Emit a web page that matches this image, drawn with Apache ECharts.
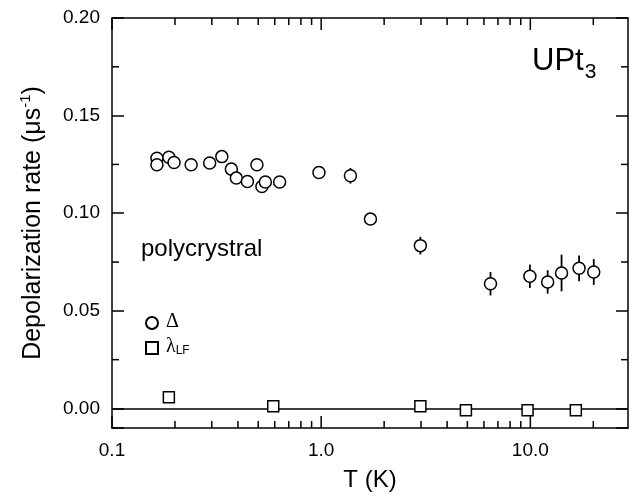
<!DOCTYPE html>
<html>
<head>
<meta charset="utf-8">
<script src="https://cdn.jsdelivr.net/npm/echarts@6/dist/echarts.min.js"></script>
<style>
  html, body { margin: 0; padding: 0; background: #fff; }
  #chart { width: 638px; height: 497px; }
</style>
</head>
<body>
<div id="chart"></div>
<script>
// Δ : temperature (K), rate (μs^-1), error bar half length
const deltaT = [0.164, 0.164, 0.187, 0.198, 0.239, 0.293, 0.335, 0.372, 0.393, 0.444, 0.493, 0.521, 0.541, 0.633, 0.976, 1.38, 1.72, 2.98, 6.45, 9.95, 12.1, 14.1, 17.1, 20.1];
const deltaVal = [0.1282, 0.1248, 0.1287, 0.126, 0.1248, 0.1257, 0.129, 0.1226, 0.118, 0.1163, 0.1248, 0.1137, 0.116, 0.116, 0.1209, 0.1192, 0.097, 0.0834, 0.0639, 0.0677, 0.0648, 0.0694, 0.0718, 0.0699];
const deltaErr = [0, 0, 0, 0, 0, 0, 0, 0, 0, 0, 0, 0, 0, 0, 0, 0.004, 0, 0.0045, 0.006, 0.006, 0.006, 0.0094, 0.0066, 0.0066];

// λLF
const lambdaT = [0.187, 0.59, 2.98, 4.92, 9.7, 16.5];
const lambdaVal = [0.0057, 0.0012, 0.0012, -0.0009, -0.0009, -0.0009];

// axes
const X_MIN = 0.1, X_MAX = 29.3;
const Y_MIN = -0.01, Y_MAX = 0.2;
const xTickValues = [0.1, 1, 10];
const xTickLabels = ['0.1', '1.0', '10.0'];
const xMinorTicks = [0.2, 0.3, 0.4, 0.5, 0.6, 0.7, 0.8, 0.9, 2, 3, 4, 5, 6, 7, 8, 9, 20];
const yMinorTicks = [0.025, 0.075, 0.125, 0.175];

const FONT = 'Liberation Sans, Arial, Helvetica, sans-serif';
const SERIF = 'Liberation Serif, Times New Roman, serif';

const chart = echarts.init(document.getElementById('chart'));

const dotStyle = { color: '#fff', borderColor: '#000', borderWidth: 1.5, opacity: 1 };

// ticks on the log axes, placed through the scales ('bottom' or 'top')
const xTickSeries = (values, len, side) => ({
  type: 'custom', silent: true, clip: false, zlevel: 1, z: 10,
  data: values.map(t => [t, side === 'bottom' ? Y_MIN : Y_MAX]),
  encode: { x: 0, y: 1 },
  renderItem: (params, api) => {
    const p = api.coord([api.value(0), api.value(1)]);
    const dy = side === 'bottom' ? -len : len;
    return {
      type: 'line',
      shape: { x1: p[0], y1: p[1], x2: p[0], y2: p[1] + dy },
      style: { stroke: '#000', lineWidth: 1.5 }
    };
  }
});

// minor ticks on the value axes ('left' or 'right')
const yTickSeries = (values, len, side) => ({
  type: 'custom', silent: true, clip: false, zlevel: 1, z: 10,
  data: values.map(v => [side === 'left' ? X_MIN : X_MAX, v]),
  encode: { x: 0, y: 1 },
  renderItem: (params, api) => {
    const p = api.coord([api.value(0), api.value(1)]);
    const dx = side === 'left' ? len : -len;
    return {
      type: 'line',
      shape: { x1: p[0], y1: p[1], x2: p[0] + dx, y2: p[1] },
      style: { stroke: '#000', lineWidth: 1.5 }
    };
  }
});

chart.setOption({
  animation: false,
  backgroundColor: '#fff',
  textStyle: { fontFamily: FONT, color: '#000' },
  grid: { left: 112, right: 10, top: 18, bottom: 69 },
  title: [
    {
      text: '{a|UPt}{b|3}',
      left: 532, top: 46, padding: 0,
      textStyle: {
        fontWeight: 'normal',
        rich: {
          a: { fontFamily: FONT, fontSize: 31, fontWeight: 'normal', lineHeight: 32, color: '#000', verticalAlign: 'top' },
          b: { fontFamily: FONT, fontSize: 21, fontWeight: 'normal', lineHeight: 22, color: '#000', verticalAlign: 'top', padding: [16, 0, 0, 1] }
        }
      }
    },
    {
      text: 'polycrystral',
      left: 141, top: 237, padding: 0,
      textStyle: { fontFamily: FONT, fontSize: 24, fontWeight: 'normal', color: '#000' }
    }
  ],
  legend: {
    data: ['Δ', 'λLF'],
    orient: 'vertical',
    left: 140, top: 307,
    itemWidth: 12, itemHeight: 12, itemGap: 5,
    formatter: (name) => name === 'Δ' ? '{g|Δ}' : '{g|λ}{s|LF}',
    textStyle: {
      padding: [0, 0, 0, 3],
      rich: {
        g: { fontFamily: SERIF, fontSize: 20, lineHeight: 18, color: '#000', verticalAlign: 'bottom' },
        s: { fontFamily: FONT, fontSize: 12, lineHeight: 12, color: '#000', verticalAlign: 'bottom' }
      }
    }
  },
  xAxis: [
    {
      type: 'log', logBase: 10, min: X_MIN, max: X_MAX,
      name: 'T (K)', nameLocation: 'middle', nameGap: 40,
      nameTextStyle: { fontFamily: FONT, fontSize: 24, color: '#000' },
      axisLine: { onZero: false, lineStyle: { color: '#000', width: 1.5 } },
      axisTick: { show: false },
      axisLabel: {
        fontSize: 19, color: '#000', margin: 13, fontFamily: FONT,
        formatter: (v) => {
          const i = xTickValues.findIndex(t => Math.abs(t - v) < 1e-9);
          return i >= 0 ? xTickLabels[i] : '';
        }
      },
      splitLine: { show: false }
    },
    {
      type: 'log', logBase: 10, min: X_MIN, max: X_MAX, position: 'top',
      axisLine: { onZero: false, lineStyle: { color: '#000', width: 1.5 } },
      axisTick: { show: false },
      axisLabel: { show: false },
      splitLine: { show: false }
    }
  ],
  yAxis: [
    {
      type: 'value', min: Y_MIN, max: Y_MAX, splitNumber: 4,
      name: '{n|Depolarization rate (μs}{p|-1}{n|)}',
      nameLocation: 'middle', nameGap: 66, nameRotate: 90,
      nameTextStyle: {
        rich: {
          n: { fontFamily: FONT, fontSize: 25, lineHeight: 28, color: '#000', verticalAlign: 'bottom' },
          p: { fontFamily: FONT, fontSize: 15, lineHeight: 15, color: '#000', verticalAlign: 'top' }
        }
      },
      axisLine: { onZero: false, lineStyle: { color: '#000', width: 1.5 } },
      axisTick: { inside: true, length: 12, lineStyle: { color: '#000', width: 1.5 } },
      axisLabel: {
        fontSize: 19, color: '#000', margin: 12, fontFamily: FONT,
        formatter: (v) => v < -1e-9 ? '' : v.toFixed(2)
      },
      splitLine: { show: false }
    },
    {
      type: 'value', min: Y_MIN, max: Y_MAX, splitNumber: 4, position: 'right',
      axisLine: { onZero: false, lineStyle: { color: '#000', width: 1.5 } },
      axisTick: { inside: true, length: 12, lineStyle: { color: '#000', width: 1.5 } },
      axisLabel: { show: false },
      splitLine: { show: false }
    }
  ],
  series: [
    xTickSeries(xTickValues, 12, 'bottom'),
    xTickSeries(xTickValues, 12, 'top'),
    xTickSeries(xMinorTicks, 7, 'bottom'),
    xTickSeries(xMinorTicks, 7, 'top'),
    yTickSeries(yMinorTicks, 7, 'left'),
    yTickSeries(yMinorTicks, 7, 'right'),
    {
      // error bars
      type: 'custom', silent: true, z: 2,
      data: deltaT.map((t, i) => [t, deltaVal[i] - deltaErr[i], deltaVal[i] + deltaErr[i]]).filter((d, i) => deltaErr[i] > 0),
      encode: { x: 0, y: [1, 2] },
      renderItem: (params, api) => {
        const lo = api.coord([api.value(0), api.value(1)]);
        const hi = api.coord([api.value(0), api.value(2)]);
        return {
          type: 'line',
          shape: { x1: lo[0], y1: lo[1], x2: hi[0], y2: hi[1] },
          style: { stroke: '#000', lineWidth: 1.8 }
        };
      }
    },
    {
      name: 'Δ', type: 'scatter', z: 3,
      symbol: 'circle', symbolSize: 12,
      itemStyle: dotStyle,
      data: deltaT.map((t, i) => [t, deltaVal[i]])
    },
    {
      name: 'λLF', type: 'scatter', z: 3,
      symbol: 'rect', symbolSize: 11,
      itemStyle: dotStyle,
      data: lambdaT.map((t, i) => [t, lambdaVal[i]]),
      markLine: {
        silent: true, symbol: 'none', z: 1,
        label: { show: false },
        lineStyle: { color: '#000', type: 'solid', width: 1.5 },
        data: [{ yAxis: 0 }]
      }
    }
  ]
});

window.addEventListener('resize', () => { chart.resize(); });
</script>
</body>
</html>
